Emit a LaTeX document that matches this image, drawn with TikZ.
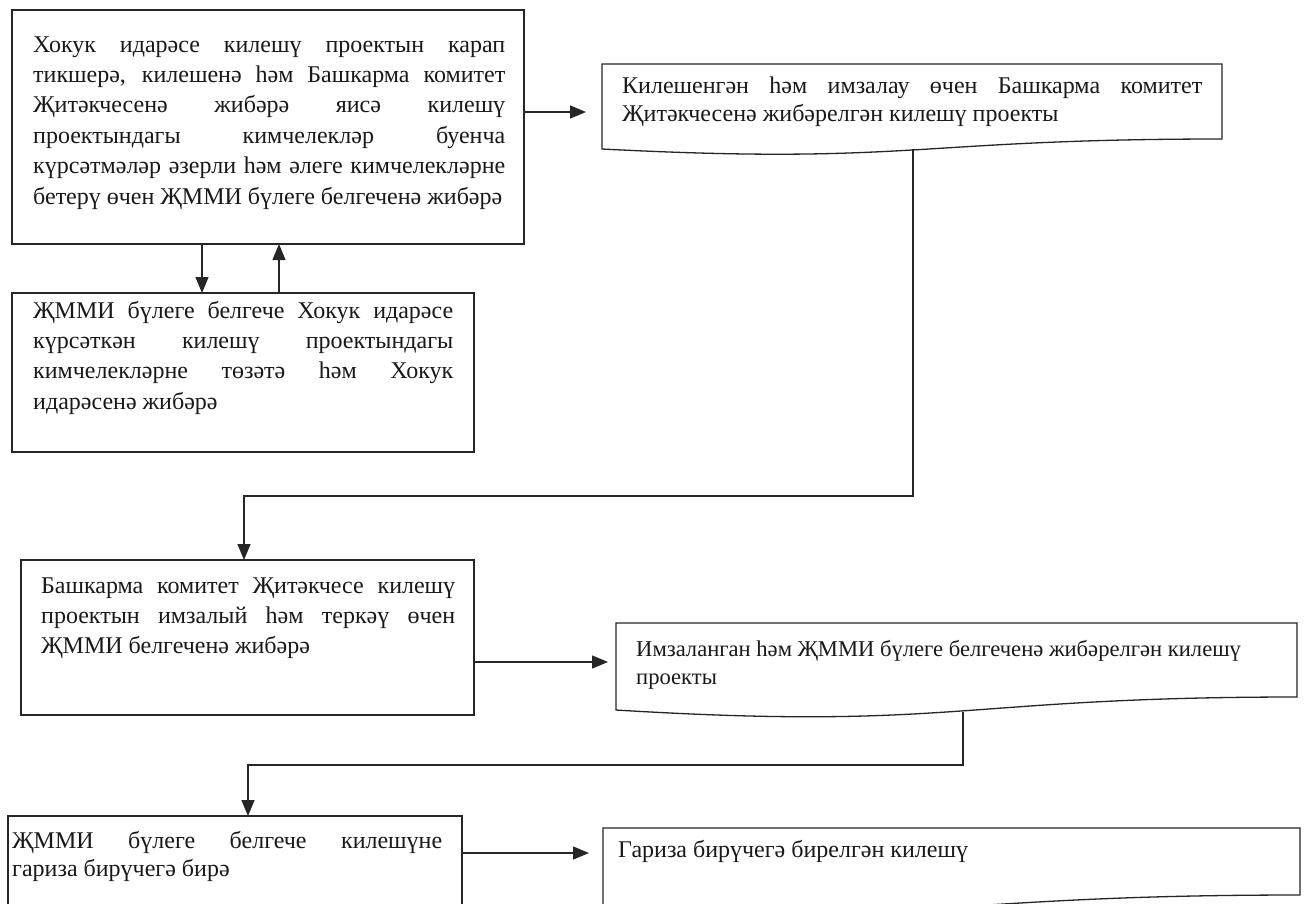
\documentclass[tikz,border=0pt]{standalone}
\usepackage{fontspec}
\setmainfont{Liberation Serif}
\usetikzlibrary{arrows.meta,calc}
\newcommand\fsA{\fontsize{24}{30.4}\selectfont\hyphenpenalty=10000\exhyphenpenalty=10000}
\newcommand\fsB{\fontsize{24}{28}\selectfont\hyphenpenalty=10000\exhyphenpenalty=10000}
\newcommand\fsE{\fontsize{22.6}{28}\selectfont\hyphenpenalty=10000\exhyphenpenalty=10000}
\newcommand\docpath[2]{%
  \draw[ln] (#1.south west) -- (#1.north west) -- (#1.north east) -- ([yshift=#2pt]#1.south east)
    .. controls ([yshift=#2pt]#1.south) and ([yshift=-1.6*#2pt]#1.south) .. (#1.south west) -- cycle;}
\tikzset{
  ln/.style={line width=1.3pt, black!85},
  box/.style={ln, draw, inner sep=0pt, outer sep=0pt, anchor=north west},
  docbox/.style={inner sep=0pt, outer sep=0pt, anchor=north west},
  txt/.style={inner sep=0pt, anchor=base west, align=justify, text=black!90},
  arr/.style={ln, -{Triangle[length=16pt,width=13pt]}}
}
\begin{document}
\begin{tikzpicture}[x=1pt,y=-1pt]
\useasboundingbox (0,0) rectangle (1311,903);
\clip (0,0) rectangle (1311,903);
\fill[white] (0,0) rectangle (1311,903);

% boxes
\node[box, minimum width=512pt, minimum height=234pt] (A) at (12,10) {};
\node[box, minimum width=462pt, minimum height=159pt] (B) at (12,293) {};
\node[docbox, minimum width=620pt, minimum height=85pt] (C) at (602,64) {};
\node[box, minimum width=453pt, minimum height=155pt] (D) at (21,560) {};
\node[docbox, minimum width=681pt, minimum height=87pt] (E) at (616,623) {};
\node[box, minimum width=454pt, minimum height=100pt] (F) at (8,816) {};
\node[docbox, minimum width=697pt, minimum height=78pt] (G) at (603,828) {};
\docpath{C}{10}
\docpath{E}{13}
\docpath{G}{11}

% texts
\node[txt, text width=472pt, font=\fsA] (At) at (33,52) {Хокук идарәсе килешү проектын карап\linebreak
тикшерә, килешенә һәм Башкарма комитет\linebreak
Җитәкчесенә жибәрә яисә килешү\linebreak
проектындагы кимчелекләр буенча\linebreak
күрсәтмәләр әзерли һәм әлеге кимчелекләрне\linebreak
бетерү өчен ҖММИ бүлеге белгеченә жибәрә};
\node[txt, text width=420pt, font=\fsA] (Bt) at (33,318) {ҖММИ бүлеге белгече Хокук идарәсе\linebreak
күрсәткән килешү проектындагы\linebreak
кимчелекләрне төзәтә һәм Хокук\linebreak
идарәсенә жибәрә};
\node[txt, text width=580pt, font=\fsB] (Ct) at (622,93) {Килешенгән һәм имзалау өчен Башкарма комитет\linebreak
Җитәкчесенә жибәрелгән килешү проекты};
\node[txt, text width=414pt, font=\fsA] (Dt) at (41,593) {Башкарма комитет Җитәкчесе килешү\linebreak
проектын имзалый һәм теркәү өчен\linebreak
ҖММИ белгеченә жибәрә};
\node[txt, text width=640pt, font=\fsE] (Et) at (636,656) {Имзаланган һәм ҖММИ бүлеге белгеченә жибәрелгән килешү\\
проекты};
\node[txt, text width=430pt, font=\fsB] (Ft) at (12,848) {ҖММИ бүлеге белгече килешүне\linebreak
гариза бирүчегә бирә};
\node[txt, font=\fsB] (Gt) at (618,857) {Гариза бирүчегә бирелгән килешү};

% connectors
\draw[arr] ([xshift=190pt]A.south west) -- ([xshift=190pt]B.north west);
\draw[arr] ([xshift=267pt]B.north west) -- ([xshift=267pt]A.south west);
\coordinate (ac) at ([yshift=-102pt]A.north east);
\draw[arr, shorten >=16pt] (ac) -- (ac -| C.west);

\coordinate (cOut) at ([xshift=311pt]C.south west);
\coordinate (dIn) at ([xshift=223pt]D.north west);
\coordinate (row1) at (0,496);
\draw[arr] (cOut) -- (cOut |- row1) -- (dIn |- row1) -- (dIn);

\coordinate (de) at ([yshift=-102pt]D.north east);
\draw[arr, shorten >=8pt] (de) -- (de -| E.west);

\coordinate (eOut) at ([xshift=347pt,yshift=-2pt]E.south west);
\coordinate (fIn) at ([xshift=240pt]F.north west);
\coordinate (row2) at (0,765);
\draw[arr] (eOut) -- (eOut |- row2) -- (fIn |- row2) -- (fIn);

\coordinate (fg) at ([yshift=-37pt]F.north east);
\draw[arr, shorten >=14pt] (fg) -- (fg -| G.west);
\end{tikzpicture}
\end{document}
